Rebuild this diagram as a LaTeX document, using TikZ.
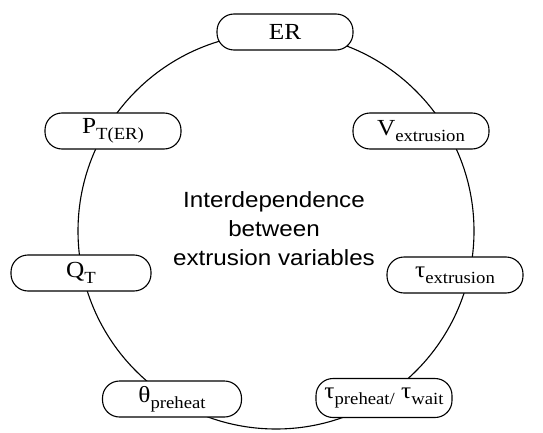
\documentclass[tikz,border=0pt]{standalone}
\usepackage{fontspec}
\setmainfont{Liberation Serif}[FakeStretch=1.1]
\newfontfamily\labelsans{Liberation Sans}[FakeStretch=1.1]
\usepackage{tikz}
\usetikzlibrary{positioning,shapes}
\newcommand{\lowsub}[1]{\raisebox{-0.25em}{\fontsize{17}{17}\selectfont #1}}
\tikzset{varbox/.style={draw,fill=white,rounded corners=17pt,minimum width=136pt,minimum height=36pt,line width=1.1pt,inner sep=2pt,font=\fontsize{23}{25}\selectfont}}

\begin{document}
\begin{tikzpicture}[x=1pt,y=1pt]
      \useasboundingbox (0,0) rectangle (543,432);
      \node[circle,draw,line width=1.1pt,minimum size=396pt,inner sep=0pt] at (276,201) (ring) {};

      \node[varbox] at (285,400) (er) {ER};
      \node[varbox] at (113,301) (pter) {P\lowsub{T(ER)}};
      \node[varbox] at (421,301) (vext) {V\lowsub{extrusion}};
      \node[varbox,minimum width=140pt] at (81,159) (qt) {Q\lowsub{T}};
      \node[varbox] at (455,157) (text) {τ\lowsub{extrusion}};
      \node[varbox,minimum width=139pt] at (172,33) (thpre) {θ\lowsub{preheat}};
      \node[varbox,minimum height=39pt] at (384,34) (tpre) {τ\lowsub{preheat/} τ\lowsub{wait}};

      \node[align=center,font=\labelsans\fontsize{22}{29}\selectfont] at (274,203) (centre) {Interdependence\\between\\extrusion variables};
    \end{tikzpicture}
\end{document}
